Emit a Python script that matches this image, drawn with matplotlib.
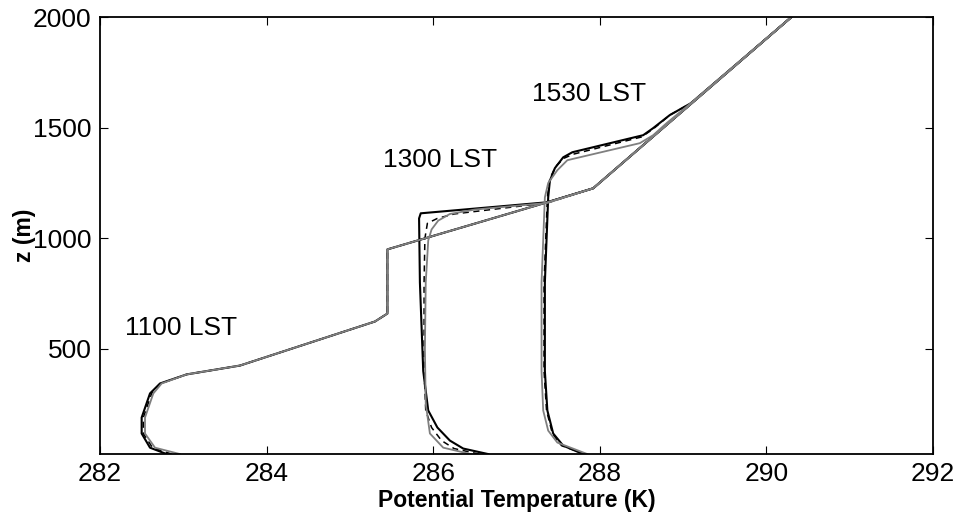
import matplotlib
matplotlib.use('Agg')
import matplotlib.pyplot as plt

plt.rcParams['font.family'] = ['Liberation Sans', 'DejaVu Sans']

# 1100 LST profiles (theta K, height m)
th_1100_k = [282.80, 282.60, 282.50, 282.50, 282.60, 282.72, 283.04, 283.68, 285.30, 285.45, 285.45, 287.37, 287.92, 290.30]
z_1100_k = [25, 54, 118, 190, 299, 344, 385, 425, 624, 660, 950, 1163, 1226, 2000]
th_1100_d = [282.86, 282.63, 282.52, 282.52, 282.62, 282.73, 283.04, 283.68, 285.30, 285.45, 285.45, 287.37, 287.92, 290.30]
z_1100_d = [25, 54, 118, 190, 299, 344, 385, 425, 624, 660, 950, 1163, 1226, 2000]
th_1100_g = [282.96, 282.66, 282.54, 282.54, 282.64, 282.74, 283.04, 283.68, 285.30, 285.45, 285.45, 287.37, 287.92, 290.30]
z_1100_g = [25, 54, 118, 190, 299, 344, 385, 425, 624, 660, 950, 1163, 1226, 2000]

# 1300 LST profiles
th_1300_k = [286.66, 286.36, 286.20, 286.05, 285.94, 285.88, 285.84, 285.83, 285.85, 287.37, 287.92, 290.30]
z_1300_k = [25, 50, 86, 145, 222, 400, 800, 1090, 1113, 1163, 1226, 2000]
th_1300_d = [286.55, 286.25, 286.10, 285.98, 285.91, 285.89, 285.89, 285.90, 285.93, 286.05, 286.25, 287.37, 287.92, 290.30]
z_1300_d = [25, 50, 86, 145, 222, 400, 800, 1000, 1068, 1090, 1110, 1160, 1226, 2000]
th_1300_g = [286.45, 286.12, 285.96, 285.91, 285.90, 285.91, 285.94, 285.98, 286.06, 286.20, 286.50, 287.37, 287.92, 290.30]
z_1300_g = [25, 54, 118, 253, 500, 800, 990, 1040, 1080, 1110, 1130, 1160, 1226, 2000]

# 1530 LST profiles
th_1530_k = [287.80, 287.56, 287.44, 287.37, 287.34, 287.34, 287.38, 287.40, 287.46, 287.56, 287.67, 288.52, 288.64, 288.84, 289.09, 290.30]
z_1530_k = [25, 63, 118, 222, 400, 800, 1185, 1260, 1317, 1366, 1389, 1466, 1498, 1557, 1610, 2000]
th_1530_d = [287.82, 287.54, 287.43, 287.36, 287.33, 287.33, 287.37, 287.40, 287.47, 287.57, 287.68, 288.50, 288.64, 288.84, 289.09, 290.30]
z_1530_d = [25, 63, 118, 222, 400, 800, 1185, 1270, 1325, 1362, 1380, 1458, 1494, 1557, 1610, 2000]
th_1530_g = [287.85, 287.49, 287.38, 287.32, 287.30, 287.30, 287.34, 287.38, 287.49, 287.61, 288.48, 288.64, 288.80, 289.09, 290.30]
z_1530_g = [25, 77, 131, 222, 400, 800, 1185, 1250, 1308, 1353, 1430, 1466, 1520, 1610, 2000]

x_ticks = [282, 284, 286, 288, 290, 292]
y_ticks = [500, 1000, 1500, 2000]
labels = ['1100 LST', '1300 LST', '1530 LST']
label_x = [282.3, 285.4, 287.19]
label_y = [597, 1353, 1650]


def profile_plot():
    fig = plt.figure(figsize=(9.57, 5.16), dpi=100)
    ax = fig.add_axes([0.1045, 0.120, 0.8705, 0.847])

    gray = '#7f7f7f'
    for th, z in [(th_1100_k, z_1100_k), (th_1300_k, z_1300_k), (th_1530_k, z_1530_k)]:
        ax.plot(th, z, color='black', lw=1.5)
    for th, z in [(th_1100_d, z_1100_d), (th_1300_d, z_1300_d), (th_1530_d, z_1530_d)]:
        ax.plot(th, z, color='black', lw=1.1, ls=(0, (4, 3)))
    for th, z in [(th_1100_g, z_1100_g), (th_1300_g, z_1300_g), (th_1530_g, z_1530_g)]:
        ax.plot(th, z, color=gray, lw=1.3)

    for s, x, y in zip(labels, label_x, label_y):
        ax.text(x, y, s, fontsize=19, ha='left', va='center')

    ax.set_xlim(282, 292)
    ax.set_ylim(25, 2000)
    ax.set_xticks(x_ticks)
    ax.set_yticks(y_ticks)
    ax.tick_params(direction='in', length=6, width=0.8, labelsize=19,
                   top=True, right=True, pad=6)
    for sp in ax.spines.values():
        sp.set_linewidth(1.3)

    ax.set_xlabel('Potential Temperature (K)', fontsize=16.5, fontweight='bold', labelpad=2)
    ax.set_ylabel('z (m)', fontsize=16.5, fontweight='bold', labelpad=-2)

    fig.savefig('out.png', dpi=100)


if __name__ == '__main__':
    profile_plot()
